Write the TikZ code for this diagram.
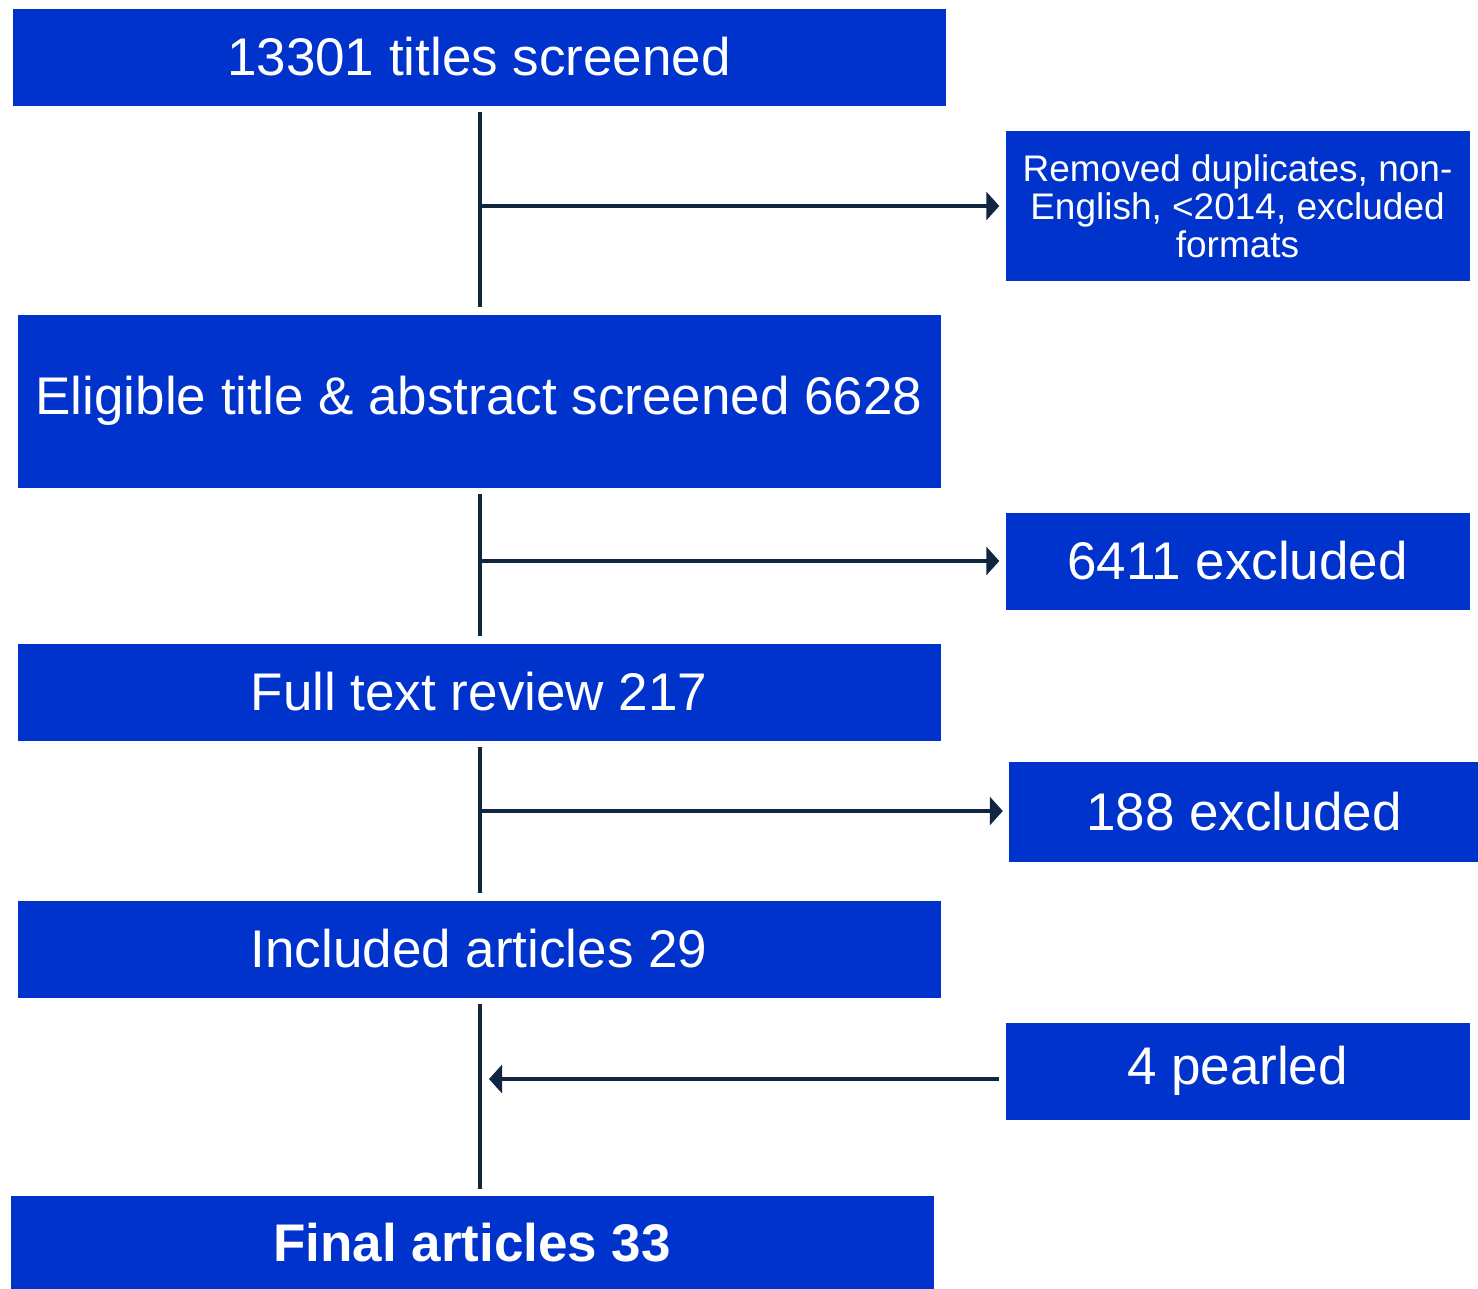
\documentclass[tikz,border=0pt]{standalone}
\usepackage{fontspec}
\setmainfont{Liberation Sans}
\usetikzlibrary{arrows.meta}
\definecolor{boxblue}{RGB}{0,51,204}
\definecolor{linenavy}{RGB}{16,37,63}
\begin{document}
\begin{tikzpicture}[x=1pt,y=-1pt,
  flowbox/.style={rectangle, fill=boxblue, draw=none, inner sep=0pt, text=white, align=center,
    font=\fontsize{53}{60}\selectfont},
  sidebox/.style={flowbox},
  conn/.style={draw=linenavy, line width=4pt},
  arr/.style={conn, -{Triangle[length=13pt,width=28pt]}}
]
\useasboundingbox (0,0) rectangle (1478,1288);
% main column
\node[flowbox, minimum width=933pt, minimum height=97pt] (n1) at (479,57) {13301 titles screened};
\node[flowbox, minimum width=923pt, minimum height=173pt] (n2) at (479,401) {Eligible title \& abstract screened 6628};
\node[flowbox, minimum width=923pt, minimum height=97pt] (n3) at (479,692) {Full text review 217};
\node[flowbox, minimum width=923pt, minimum height=97pt] (n4) at (479,949) {Included articles 29};
\node[flowbox, minimum width=923pt, minimum height=93pt, font=\fontsize{53}{60}\selectfont\bfseries] (n5) at (472,1242.5) {Final articles 33};
% side boxes
\node[sidebox, minimum width=464pt, minimum height=150pt, font=\fontsize{37}{38}\selectfont] (r1) at (1237.5,206)
  {Removed duplicates, non-\\English, <2014, excluded\\formats};
\node[sidebox, minimum width=464pt, minimum height=97pt] (r2) at (1237.5,561) {6411 excluded};
\node[sidebox, minimum width=470pt, minimum height=100pt] (r3) at (1244,811.5) {188 excluded};
\node[sidebox, minimum width=464pt, minimum height=97pt] (r4) at (1237.5,1071) {4 pearled};
% spine
\coordinate (spine) at (480,0);
\draw[conn, shorten <=6pt, shorten >=7pt] (n1.south -| spine) -- (n2.north -| spine);
\draw[conn, shorten <=6pt, shorten >=7pt] (n2.south -| spine) -- (n3.north -| spine);
\draw[conn, shorten <=6pt, shorten >=7pt] (n3.south -| spine) -- (n4.north -| spine);
\draw[conn, shorten <=6pt, shorten >=7pt] (n4.south -| spine) -- (n5.north -| spine);
% branches
\coordinate (b1) at (480,206);
\coordinate (b2) at (480,561);
\coordinate (b3) at (480,811);
\coordinate (b4) at (480,1079);
\draw[arr, shorten >=6pt] (b1) -- (b1 -| r1.west);
\draw[arr, shorten >=6pt] (b2) -- (b2 -| r2.west);
\draw[arr, shorten >=6pt] (b3) -- (b3 -| r3.west);
\draw[arr, shorten <=6pt, shorten >=9pt] (b4 -| r4.west) -- (b4);
\end{tikzpicture}
\end{document}
